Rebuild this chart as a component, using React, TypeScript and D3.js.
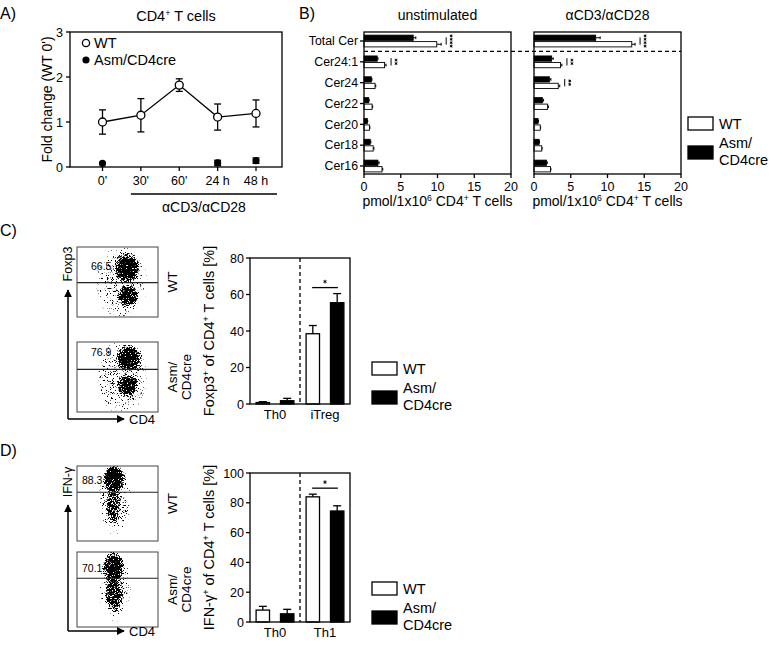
import React from 'react';
import * as d3 from 'd3';

const W = 769;
const H = 647;
const FONT = 'Arial, "Liberation Sans", Helvetica, sans-serif';

// ---------- Panel A data ----------
const timeCats = ["0'", "30'", "60'", "24 h", "48 h"];
const wtMean = [1.0, 1.15, 1.82, 1.11, 1.19];
const wtErr = [0.27, 0.37, 0.14, 0.29, 0.3];
const asmMean: (number | null)[] = [0.08, null, null, 0.09, 0.14];
const asmErr: (number | null)[] = [0.0, null, null, 0.06, 0.06];
const aYTicks = [0, 1, 2, 3];

// ---------- Panel B data ----------
const cerCats = ['Total Cer', 'Cer24:1', 'Cer24', 'Cer22', 'Cer20', 'Cer18', 'Cer16'];
const unstimAsm = [6.7, 1.8, 1.0, 0.65, 0.45, 0.85, 1.9];
const unstimAsmErr = [0.35, 0.1, 0.08, 0.05, 0.05, 0.08, 0.15];
const unstimWt = [9.9, 2.8, 1.5, 1.1, 0.75, 1.25, 2.45];
const unstimWtErr = [0.6, 0.2, 0.1, 0.08, 0.05, 0.1, 0.1];
const unstimSig = [4, 2, 0, 0, 0, 0, 0];
const stimAsm = [8.4, 2.4, 2.1, 1.15, 0.55, 0.7, 1.7];
const stimAsmErr = [0.6, 0.2, 0.2, 0.15, 0.05, 0.05, 0.1];
const stimWt = [13.3, 3.6, 3.3, 1.85, 0.85, 1.05, 2.25];
const stimWtErr = [0.45, 0.2, 0.2, 0.1, 0.05, 0.05, 0.05];
const stimSig = [4, 2, 2, 0, 0, 0, 0];
const bTicks = [0, 5, 10, 15, 20];

// ---------- Panel C data ----------
const cGroups = ['Th0', 'iTreg'];
const cWt = [0.8, 38.5];
const cWtErr = [0.5, 4.5];
const cAsm = [1.8, 55.5];
const cAsmErr = [1.3, 5.0];
const cSig = [0, 1];
const cTicks = [0, 20, 40, 60, 80];
const cFlowNums = ['66.5', '76.9'];

// ---------- Panel D data ----------
const dGroups = ['Th0', 'Th1'];
const dWt = [8.0, 84.0];
const dWtErr = [2.5, 1.8];
const dAsm = [5.5, 74.5];
const dAsmErr = [3.0, 3.5];
const dSig = [0, 1];
const dTicks = [0, 20, 40, 60, 80, 100];
const dFlowNums = ['88.3', '70.1'];

// flow density clusters: [cx, cy, rx, ry, density] as fractions of the plot box
type Blob = [number, number, number, number, number];
const cFlowWt: Blob[] = [
  [0.55, 0.5, 0.33, 0.56, 0.32],
  [0.62, 0.3, 0.17, 0.23, 1.0],
  [0.63, 0.7, 0.14, 0.16, 0.95],
];
const cFlowAsm: Blob[] = [
  [0.55, 0.5, 0.33, 0.56, 0.32],
  [0.64, 0.23, 0.17, 0.21, 1.0],
  [0.62, 0.62, 0.14, 0.17, 0.9],
];
const dFlowWt: Blob[] = [
  [0.47, 0.45, 0.21, 0.5, 0.33],
  [0.45, 0.52, 0.1, 0.3, 0.6],
  [0.46, 0.17, 0.15, 0.2, 1.0],
];
const dFlowAsm: Blob[] = [
  [0.47, 0.45, 0.21, 0.5, 0.33],
  [0.46, 0.56, 0.12, 0.26, 0.78],
  [0.45, 0.2, 0.14, 0.22, 1.0],
];

const SW = 1.3;

function Sup({ children }: { children: React.ReactNode }) {
  return (
    <tspan baselineShift="super" fontSize="0.62em">
      {children}
    </tspan>
  );
}

function Star({ x, y, r }: { x: number; y: number; r: number }) {
  const pts = [90, 30, -30].map((a) => {
    const rad = (a * Math.PI) / 180;
    const dx = r * Math.cos(rad);
    const dy = r * Math.sin(rad);
    return `M${x - dx},${y - dy}L${x + dx},${y + dy}`;
  });
  return <path d={pts.join('')} stroke="black" strokeWidth={0.9} fill="none" />;
}

function PanelA() {
  const box = { l: 70, r: 282, t: 32, b: 167 };
  const x = d3.scalePoint<string>().domain(timeCats).range([102.5, 256]);
  const y = d3.scaleLinear().domain([0, 3]).range([box.b, box.t]);
  const linePath = d3
    .line<number>()
    .x((_, i) => x(timeCats[i])!)
    .y((d) => y(d))(wtMean);
  const cap = 3.5;
  return (
    <g>
      <text x={0} y={19} fontSize={16}>A)</text>
      <text x={176} y={21} textAnchor="middle" fontSize={14.5}>
        CD4<Sup>+</Sup> T cells
      </text>
      <rect x={box.l} y={box.t} width={box.r - box.l} height={box.b - box.t} fill="none" stroke="black" strokeWidth={SW} />
      {aYTicks.map((t) => (
        <g key={t}>
          <line x1={box.l - 4} x2={box.l} y1={y(t)} y2={y(t)} stroke="black" strokeWidth={SW} />
          <text x={box.l - 7} y={y(t) + 4.5} textAnchor="end" fontSize={12.5}>{t}</text>
        </g>
      ))}
      {timeCats.map((c) => (
        <g key={c}>
          <line x1={x(c)} x2={x(c)} y1={box.b} y2={box.b + 4} stroke="black" strokeWidth={SW} />
          <text x={x(c)} y={box.b + 18} textAnchor="middle" fontSize={12.5}>{c}</text>
        </g>
      ))}
      <line x1={x("30'")! - 10} x2={box.r - 5} y1={194} y2={194} stroke="black" strokeWidth={SW} />
      <text x={(x("30'")! - 10 + box.r - 5) / 2} y={212} textAnchor="middle" fontSize={14}>αCD3/αCD28</text>
      <text transform={`translate(52,${(box.t + box.b) / 2}) rotate(-90)`} textAnchor="middle" fontSize={14}>
        Fold change (WT 0')
      </text>
      <path d={linePath!} fill="none" stroke="black" strokeWidth={SW} />
      {wtMean.map((m, i) => {
        const cx = x(timeCats[i])!;
        const e = wtErr[i];
        return (
          <g key={i}>
            <line x1={cx} x2={cx} y1={y(m - e)} y2={y(m + e)} stroke="black" strokeWidth={SW} />
            <line x1={cx - cap} x2={cx + cap} y1={y(m - e)} y2={y(m - e)} stroke="black" strokeWidth={SW} />
            <line x1={cx - cap} x2={cx + cap} y1={y(m + e)} y2={y(m + e)} stroke="black" strokeWidth={SW} />
            <circle cx={cx} cy={y(m)} r={4} fill="white" stroke="black" strokeWidth={SW} />
          </g>
        );
      })}
      {asmMean.map((m, i) => {
        if (m == null) return null;
        const cx = x(timeCats[i])!;
        const e = asmErr[i] || 0;
        return (
          <g key={i}>
            {e > 0 && (
              <>
                <line x1={cx} x2={cx} y1={y(m - e)} y2={y(m + e)} stroke="black" strokeWidth={SW} />
                <line x1={cx - cap} x2={cx + cap} y1={y(m - e)} y2={y(m - e)} stroke="black" strokeWidth={SW} />
                <line x1={cx - cap} x2={cx + cap} y1={y(m + e)} y2={y(m + e)} stroke="black" strokeWidth={SW} />
              </>
            )}
            <circle cx={cx} cy={y(m)} r={3.6} fill="black" />
          </g>
        );
      })}
      <circle cx={86} cy={43} r={3.6} fill="white" stroke="black" strokeWidth={SW} />
      <text x={94} y={48} fontSize={14.5}>WT</text>
      <circle cx={86} cy={60} r={3.6} fill="black" />
      <text x={94} y={65} fontSize={14.5}>Asm/CD4cre</text>
    </g>
  );
}

function CerPanel({
  l, r, title, asm, asmErr, wt, wtErr, sig, showCats,
}: {
  l: number; r: number; title: string; asm: number[]; asmErr: number[]; wt: number[]; wtErr: number[]; sig: number[]; showCats: boolean;
}) {
  const t = 32, b = 174;
  const x = d3.scaleLinear().domain([0, 20]).range([l, r]);
  const y = d3.scalePoint<string>().domain(cerCats).range([41, 166]);
  const bh = 5.3;
  return (
    <g>
      <text x={(l + r) / 2} y={20} textAnchor="middle" fontSize={14}>{title}</text>
      {cerCats.map((c, i) => {
        const cy = y(c)!;
        const aEnd = x(asm[i] + asmErr[i]);
        const wEnd = x(wt[i] + wtErr[i]);
        const sx = Math.max(aEnd, wEnd) + 5;
        const n = sig[i];
        return (
          <g key={c}>
            <line x1={x(asm[i])} x2={aEnd} y1={cy - bh / 2 - 0.6} y2={cy - bh / 2 - 0.6} stroke="black" strokeWidth={1} />
            <line x1={aEnd} x2={aEnd} y1={cy - bh / 2 - 2} y2={cy - bh / 2 + 0.8} stroke="black" strokeWidth={1} />
            <rect x={l} y={cy - bh - 0.6} width={x(asm[i]) - l} height={bh} fill="black" stroke="black" strokeWidth={0.8} />
            <line x1={x(wt[i])} x2={wEnd} y1={cy + bh / 2 + 0.6} y2={cy + bh / 2 + 0.6} stroke="black" strokeWidth={1} />
            <line x1={wEnd} x2={wEnd} y1={cy + bh / 2 - 0.8} y2={cy + bh / 2 + 2} stroke="black" strokeWidth={1} />
            <rect x={l} y={cy + 0.6} width={x(wt[i]) - l} height={bh} fill="white" stroke="black" strokeWidth={0.9} />
            {n > 0 && (
              <g>
                <line x1={sx} x2={sx} y1={cy - bh / 2 - 1} y2={cy + bh / 2 + 1} stroke="black" strokeWidth={1} />
                {d3.range(n).map((k) => (
                  <Star key={k} x={sx + 5} y={cy + (k - (n - 1) / 2) * 3.4} r={1.5} />
                ))}
              </g>
            )}
            {showCats && (
              <>
                <line x1={l - 4} x2={l} y1={cy} y2={cy} stroke="black" strokeWidth={SW} />
                <text x={l - 6} y={cy + 4.3} textAnchor="end" fontSize={12.3}>{c}</text>
              </>
            )}
          </g>
        );
      })}
      <rect x={l} y={t} width={r - l} height={b - t} fill="none" stroke="black" strokeWidth={SW} />
      {bTicks.map((v) => (
        <g key={v}>
          <line x1={x(v)} x2={x(v)} y1={b} y2={b + 4} stroke="black" strokeWidth={SW} />
          <text x={x(v)} y={b + 17} textAnchor="middle" fontSize={12.5}>{v}</text>
        </g>
      ))}
      <text x={(l + r) / 2} y={b + 32} textAnchor="middle" fontSize={14}>
        pmol/1x10<Sup>6</Sup> CD4<Sup>+</Sup> T cells
      </text>
    </g>
  );
}

function PanelB() {
  const y = d3.scalePoint<string>().domain(cerCats).range([41, 166]);
  const dashY = (y(cerCats[0])! + y(cerCats[1])!) / 2;
  return (
    <g>
      <text x={299} y={19} fontSize={16}>B)</text>
      <CerPanel l={364} r={511} title="unstimulated" asm={unstimAsm} asmErr={unstimAsmErr} wt={unstimWt} wtErr={unstimWtErr} sig={unstimSig} showCats />
      <CerPanel l={534} r={681} title="αCD3/αCD28" asm={stimAsm} asmErr={stimAsmErr} wt={stimWt} wtErr={stimWtErr} sig={stimSig} showCats={false} />
      <line x1={364} x2={681} y1={dashY} y2={dashY} stroke="black" strokeWidth={1.3} strokeDasharray="4,3" />
      <Legend x={688} y={117} />
    </g>
  );
}

function Legend({ x, y }: { x: number; y: number }) {
  return (
    <g>
      <rect x={x} y={y} width={25} height={13} fill="white" stroke="black" strokeWidth={SW} />
      <text x={x + 31} y={y + 12} fontSize={14.5}>WT</text>
      <rect x={x} y={y + 29} width={25} height={13} fill="black" stroke="black" strokeWidth={SW} />
      <text x={x + 31} y={y + 31} fontSize={14.5}>Asm/</text>
      <text x={x + 31} y={y + 48} fontSize={14.5}>CD4cre</text>
    </g>
  );
}

function BarPanel({
  t, b, groups, wt, wtErr, asm, asmErr, sig, ticks, yMax, ylabel, legendY,
}: {
  t: number; b: number; groups: string[]; wt: number[]; wtErr: number[]; asm: number[]; asmErr: number[]; sig: number[]; ticks: number[]; yMax: number; ylabel: React.ReactNode; legendY: number;
}) {
  const l = 250, r = 350;
  const y = d3.scaleLinear().domain([0, yMax]).range([b, t]);
  const gx = d3.scaleBand<string>().domain(groups).range([l, r]);
  const sx = d3.scaleBand<string>().domain(['WT', 'Asm']).range([0, gx.bandwidth()]).paddingInner(0.45).paddingOuter(0.25);
  const bw = sx.bandwidth();
  const cap = 4;
  const bar = (g: string, s: string, v: number, e: number, fill: string) => {
    const x0 = gx(g)! + sx(s)!;
    const cx = x0 + bw / 2;
    return (
      <g key={g + s}>
        <line x1={cx} x2={cx} y1={y(v)} y2={y(v + e)} stroke="black" strokeWidth={SW} />
        <line x1={cx - cap} x2={cx + cap} y1={y(v + e)} y2={y(v + e)} stroke="black" strokeWidth={SW} />
        <rect x={x0} y={y(v)} width={bw} height={b - y(v)} fill={fill} stroke="black" strokeWidth={SW} />
      </g>
    );
  };
  return (
    <g>
      {groups.map((g, i) => (
        <g key={g}>
          {bar(g, 'WT', wt[i], wtErr[i], 'white')}
          {bar(g, 'Asm', asm[i], asmErr[i], 'black')}
          <text x={gx(g)! + gx.bandwidth() / 2} y={b + 15} textAnchor="middle" fontSize={13}>{g}</text>
          {sig[i] > 0 && (() => {
            const top = Math.min(y(wt[i] + wtErr[i]), y(asm[i] + asmErr[i])) - 6;
            const x1 = gx(g)! + sx('WT')! + bw * 0.45;
            const x2 = gx(g)! + sx('Asm')! + bw * 0.55;
            return (
              <g>
                <line x1={x1} x2={x2} y1={top} y2={top} stroke="black" strokeWidth={SW} />
                <Star x={(x1 + x2) / 2} y={top - 6} r={1.8} />
              </g>
            );
          })()}
        </g>
      ))}
      <line x1={(l + r) / 2} x2={(l + r) / 2} y1={t} y2={b} stroke="black" strokeWidth={SW} strokeDasharray="4,3" />
      <rect x={l} y={t} width={r - l} height={b - t} fill="none" stroke="black" strokeWidth={SW} />
      {ticks.map((v) => (
        <g key={v}>
          <line x1={l - 4} x2={l} y1={y(v)} y2={y(v)} stroke="black" strokeWidth={SW} />
          <text x={l - 6} y={y(v) + 4.5} textAnchor="end" fontSize={12.5}>{v}</text>
        </g>
      ))}
      <text transform={`translate(214,${(t + b) / 2}) rotate(-90)`} textAnchor="middle" fontSize={14.5}>
        {ylabel}
      </text>
      <Legend x={372} y={legendY} />
    </g>
  );
}

function FlowBox({ id, l, r, t, h, blobs, gate, num, numX, numDy }: { id: string; l: number; r: number; t: number; h: number; blobs: Blob[]; gate: number; num: string; numX: number; numDy: number }) {
  const w = r - l;
  const fx = d3.scaleLinear().domain([0, 1]).range([l, r]);
  const fy = d3.scaleLinear().domain([0, 1]).range([t, t + h]);
  const gy = fy(gate);
  return (
    <g>
      <clipPath id={`clip-${id}`}>
        <rect x={l} y={t} width={w} height={h} />
      </clipPath>
      <g clipPath={`url(#clip-${id})`}>
        <g filter="url(#speckle)">
          <rect x={l} y={t} width={w} height={h} fill="black" fillOpacity={0.001} />
          {blobs.map((bl, i) => (
            <ellipse key={i} cx={fx(bl[0])} cy={fy(bl[1])} rx={bl[2] * w} ry={bl[3] * h} fill="url(#blobGrad)" fillOpacity={bl[4]} />
          ))}
        </g>
      </g>
      <line x1={l} x2={r} y1={gy} y2={gy} stroke="#222" strokeWidth={1.2} />
      <rect x={l} y={t} width={w} height={h} fill="none" stroke="#444" strokeWidth={1} />
      <text x={numX} y={gy - numDy} fontSize={10.5}>{num}</text>
    </g>
  );
}

function FlowPanel({ top1, top2, h, blobs1, blobs2, gate, nums, numX, numDy, arrowY, arrowTop, yLabel, yLabelY }: {
  top1: number; top2: number; h: number; blobs1: Blob[]; blobs2: Blob[]; gate: [number, number]; nums: string[]; numX: number; numDy: [number, number]; arrowY: number; arrowTop: number; yLabel: string; yLabelY: number;
}) {
  const l = 77, r = 158;
  return (
    <g>
      <FlowBox id={yLabel + '1'} l={l} r={r} t={top1} h={h} blobs={blobs1} gate={gate[0]} num={nums[0]} numX={numX} numDy={numDy[0]} />
      <FlowBox id={yLabel + '2'} l={l} r={r} t={top2} h={h} blobs={blobs2} gate={gate[1]} num={nums[1]} numX={numX} numDy={numDy[1]} />
      <text transform={`translate(177,${top1 + h / 2}) rotate(-90)`} textAnchor="middle" fontSize={13.5}>WT</text>
      <text transform={`translate(177,${top2 + h / 2}) rotate(-90)`} textAnchor="middle" fontSize={13.5}>Asm/</text>
      <text transform={`translate(191,${top2 + h / 2}) rotate(-90)`} textAnchor="middle" fontSize={13.5}>CD4cre</text>
      <line x1={68} x2={68} y1={arrowY} y2={arrowTop} stroke="black" strokeWidth={1.5} markerEnd="url(#arrow)" />
      <line x1={68} x2={124} y1={arrowY} y2={arrowY} stroke="black" strokeWidth={1.5} markerEnd="url(#arrow)" />
      <text x={129} y={arrowY + 5} fontSize={13}>CD4</text>
      <text transform={`translate(72,${yLabelY}) rotate(-90)`} textAnchor="middle" fontSize={12.5}>{yLabel}</text>
    </g>
  );
}

export default function App() {
  return (
    <svg width={W} height={H} style={{ position: 'absolute', left: 0, top: 0, background: 'white' }} fontFamily={FONT}>
      <defs>
        <marker id="arrow" viewBox="0 0 10 10" refX="9" refY="5" markerWidth={8} markerHeight={8} markerUnits="userSpaceOnUse" orient="auto">
          <path d="M0,0 L10,5 L0,10 z" fill="black" />
        </marker>
        <radialGradient id="blobGrad">
          <stop offset="0" stopColor="black" stopOpacity={1} />
          <stop offset="0.5" stopColor="black" stopOpacity={1} />
          <stop offset="0.8" stopColor="black" stopOpacity={0.55} />
          <stop offset="1" stopColor="black" stopOpacity={0} />
        </radialGradient>
        <filter id="speckle" x="0" y="0" width="1" height="1" colorInterpolationFilters="sRGB">
          <feTurbulence type="fractalNoise" baseFrequency="1.6" numOctaves={2} seed={7} result="noise" />
          <feColorMatrix in="noise" type="matrix" values="0 0 0 0 0  0 0 0 0 0  0 0 0 0 0  2.2 0 0 0 -0.6" result="nmask" />
          <feComposite in="SourceGraphic" in2="nmask" operator="arithmetic" k1={0} k2={6} k3={-6} k4={0} />
        </filter>
      </defs>
      <rect x={0} y={0} width={W} height={H} fill="white" />
      <PanelA />
      <PanelB />
      <text x={0} y={236} fontSize={16}>C)</text>
      <FlowPanel top1={247} top2={342} h={70} blobs1={cFlowWt} blobs2={cFlowAsm} gate={[0.51, 0.39]} nums={cFlowNums} numX={91} numDy={[13, 13]} arrowY={419} arrowTop={290} yLabel="Foxp3" yLabelY={264} />
      <BarPanel t={258} b={404} groups={cGroups} wt={cWt} wtErr={cWtErr} asm={cAsm} asmErr={cAsmErr} sig={cSig} ticks={cTicks} yMax={80}
        ylabel={<>Foxp3<Sup>+</Sup> of  CD4<Sup>+</Sup> T cells [%]</>} legendY={362} />
      <text x={0} y={456} fontSize={16}>D)</text>
      <FlowPanel top1={466} top2={552} h={75} blobs1={dFlowWt} blobs2={dFlowAsm} gate={[0.35, 0.35]} nums={dFlowNums} numX={82} numDy={[8, 6]} arrowY={631} arrowTop={505} yLabel="IFN-γ" yLabelY={482} />
      <BarPanel t={473} b={622} groups={dGroups} wt={dWt} wtErr={dWtErr} asm={dAsm} asmErr={dAsmErr} sig={dSig} ticks={dTicks} yMax={100}
        ylabel={<>IFN-γ<Sup>+</Sup> of CD4<Sup>+</Sup> T cells [%]</>} legendY={582} />
    </svg>
  );
}
